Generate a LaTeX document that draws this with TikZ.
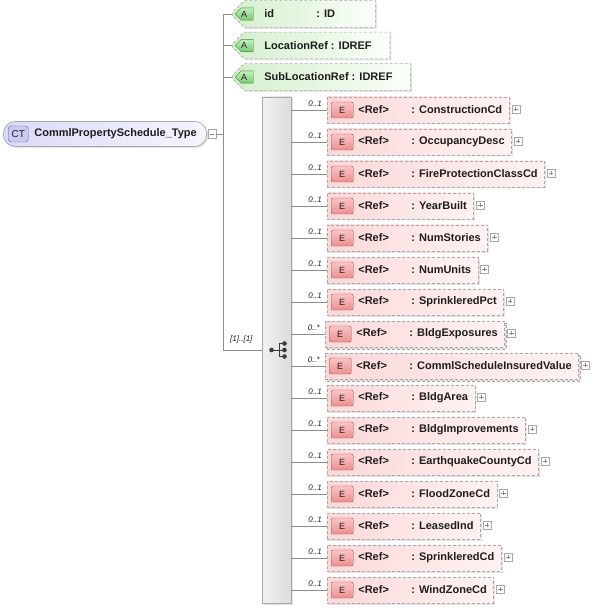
\documentclass[tikz,border=0pt]{standalone}
\usepackage{fontspec}
\setmainfont{Liberation Sans}
\usepackage{tikz}
\usetikzlibrary{positioning}
\usetikzlibrary{shapes.misc,shadows}
\definecolor{txt}{HTML}{1E1E1E}
\definecolor{lnk}{HTML}{8C8C8C}
\definecolor{frm}{HTML}{A8A8A8}
\definecolor{pinkl}{HTML}{FBD8D8}
\definecolor{pinkr}{HTML}{FFF2F2}
\definecolor{greenl}{HTML}{D4EFCC}
\definecolor{greenr}{HTML}{FAFFF9}
\definecolor{lavl}{HTML}{DADAF8}
\definecolor{lavr}{HTML}{F5F5FF}
\definecolor{eicl}{HTML}{FAC4C4}
\definecolor{eicn}{HTML}{EC9090}
\definecolor{eicb}{HTML}{B04848}
\definecolor{aicl}{HTML}{C4EEBE}
\definecolor{aicn}{HTML}{7CC876}
\definecolor{aicb}{HTML}{3C8A3C}
\definecolor{cticn}{HTML}{CACAF2}
\definecolor{cticb}{HTML}{6464A6}
\definecolor{seql}{HTML}{F2F2F2}
\definecolor{seqr}{HTML}{DCDCDC}
\definecolor{icn}{HTML}{3C3C3C}
\newcommand{\lbl}{\bfseries\fontsize{11}{13}\selectfont}
\newcommand{\elref}[1]{\hspace*{31pt}\makebox[53pt][l]{<Ref>}: #1\hspace*{7pt}}

\begin{document}
\begin{tikzpicture}[x=1pt,y=-1pt,every node/.style={text=txt},
  conn/.style={draw=lnk,line width=0.7pt},
  shd/.style={drop shadow={shadow xshift=1.5pt,shadow yshift=-1.5pt,opacity=0.22}},
  ct/.style={rectangle,rounded corners=12pt,draw=frm,line width=0.7pt,left color=lavl,right color=lavr,
    minimum height=25pt,inner xsep=0pt,anchor=west,font=\lbl,shd},
  cticon/.style={rectangle,rounded corners=3pt,draw=cticb,fill=cticn,minimum width=20pt,minimum height=16pt,
    inner sep=0pt,anchor=west,xshift=5pt,font=\fontsize{10}{10}\selectfont},
  attr/.style={chamfered rectangle,chamfered rectangle corners={north west,south west},chamfered rectangle sep=6pt,
    draw=frm,dash pattern=on 3pt off 2pt,line width=0.7pt,left color=greenl,right color=greenr,
    minimum height=25pt,inner xsep=0pt,anchor=west,font=\lbl,shd},
  aicon/.style={chamfered rectangle,chamfered rectangle corners={north west,south west},chamfered rectangle sep=3pt,
    draw=aicb,solid,top color=aicl,bottom color=aicn,minimum width=18pt,minimum height=10pt,inner sep=0pt,
    anchor=west,xshift=3pt,font=\fontsize{9}{9}\selectfont},
  elem/.style={rectangle,draw=frm,dash pattern=on 3pt off 2pt,line width=0.7pt,left color=pinkl,right color=pinkr,
    minimum height=26pt,inner xsep=0pt,anchor=west,font=\lbl,shd},
  eicon/.style={rectangle,rounded corners=2pt,draw=eicb,solid,top color=eicl,bottom color=eicn,minimum width=22pt,
    minimum height=16pt,inner sep=0pt,anchor=west,xshift=4pt,font=\fontsize{9}{9}\selectfont},
  plusbox/.style={rectangle,draw=frm,solid,fill=white,minimum size=8pt,inner sep=0pt,anchor=west,xshift=2pt,yshift=1pt,
    path picture={\draw[lnk,line width=0.6pt]
      ([xshift=1.8pt]path picture bounding box.west) -- ([xshift=-1.8pt]path picture bounding box.east)
      ([yshift=-1.8pt]path picture bounding box.north) -- ([yshift=1.8pt]path picture bounding box.south);}},
  minusbox/.style={rectangle,draw=frm,solid,fill=white,minimum width=8pt,minimum height=9pt,inner sep=0pt,anchor=west,xshift=1pt,
    path picture={\draw[lnk,line width=0.6pt]
      ([xshift=1.8pt]path picture bounding box.west) -- ([xshift=-1.8pt]path picture bounding box.east);}},
  card/.style={font=\itshape\fontsize{8}{8}\selectfont,inner sep=0pt,anchor=south east,xshift=-5pt,yshift=3pt},
  e01/.style={elem,label={[eicon]west:E},label={[plusbox]east:{}},label={[card]west:0..1}},
  emany/.style={general shadow={shadow xshift=2pt,shadow yshift=-2pt,fill=pinkr,draw=frm,
      dash pattern=on 3pt off 2pt,line width=0.6pt},
    elem,label={[eicon]west:E},label={[plusbox]east:{}},label={[card]west:0..*}},
  seqbox/.style={rectangle,draw=frm,line width=0.7pt,left color=seql,right color=seqr,minimum width=29pt,
    minimum height=506pt,inner sep=0pt,shd}]

  \useasboundingbox (0,0) rectangle (592,609);

  % Typ
  \node[ct,label={[cticon]west:CT},label={[minusbox,name=ctm]east:{}}] (CT) at (3,134)
    {\hspace*{31pt}CommlPropertySchedule\_Type\hspace*{10pt}};
  \coordinate[right=7pt of ctm.east] (jn);

  % Attribute
  \node[attr,label={[aicon]west:A}] (ID) at (232,14)
    {\hspace*{26pt}\makebox[52pt][l]{id}\makebox[40pt][l]{: ID}\hspace*{13pt}};
  \node[attr,label={[aicon]west:A}] (LR) [below=31.5pt of ID.west,anchor=west]
    {\hspace*{26pt}LocationRef\ \makebox[40pt][l]{: IDREF}\hspace*{13pt}};
  \node[attr,label={[aicon]west:A}] (SLR) [below=31.5pt of LR.west,anchor=west]
    {\hspace*{26pt}SubLocationRef\ \makebox[40pt][l]{: IDREF}\hspace*{13pt}};

  % Sequenz
  \node[seqbox] (seq) at (276.5,350) {};
  \node[card,anchor=south east] (seqc) [above left=4pt and 4pt of seq.west] {[1]..[1]};
  \draw[icn,line width=1pt] ([xshift=-5pt]seq.center) -- ([xshift=2.5pt]seq.center)
    ([xshift=2.5pt,yshift=6.5pt]seq.center) -- ([xshift=2.5pt,yshift=-6.5pt]seq.center)
    ([xshift=2.5pt,yshift=6.5pt]seq.center) -- ([xshift=8pt,yshift=6.5pt]seq.center)
    ([xshift=2.5pt]seq.center) -- ([xshift=8pt]seq.center)
    ([xshift=2.5pt,yshift=-6.5pt]seq.center) -- ([xshift=8pt,yshift=-6.5pt]seq.center);
  \fill[icn] ([xshift=-5pt]seq.center) circle (2.3pt)
    ([xshift=8pt,yshift=6.5pt]seq.center) circle (2.3pt)
    ([xshift=8pt]seq.center) circle (2.3pt)
    ([xshift=8pt,yshift=-6.5pt]seq.center) circle (2.3pt);

  % Elemente
  \node[e01] (CC) at (327,110) {\elref{ConstructionCd}};
  \node[e01] (OD) [below=32pt of CC.west,anchor=west] {\elref{OccupancyDesc}};
  \node[e01] (FP) [below=32pt of OD.west,anchor=west] {\elref{FireProtectionClassCd}};
  \node[e01] (YB) [below=32pt of FP.west,anchor=west] {\elref{YearBuilt}};
  \node[e01] (NS) [below=32pt of YB.west,anchor=west] {\elref{NumStories}};
  \node[e01] (NU) [below=32pt of NS.west,anchor=west] {\elref{NumUnits}};
  \node[e01] (SP) [below=32pt of NU.west,anchor=west] {\elref{SprinkleredPct}};
  \node[emany] (BE) [below=32pt of SP.west,anchor=west,xshift=-2pt] {\elref{BldgExposures}};
  \node[emany] (CV) [below=32pt of BE.west,anchor=west] {\elref{CommlScheduleInsuredValue}};
  \node[e01] (BA) [below=32pt of CV.west,anchor=west,xshift=2pt] {\elref{BldgArea}};
  \node[e01] (BI) [below=32pt of BA.west,anchor=west] {\elref{BldgImprovements}};
  \node[e01] (EQ) [below=32pt of BI.west,anchor=west] {\elref{EarthquakeCountyCd}};
  \node[e01] (FZ) [below=32pt of EQ.west,anchor=west] {\elref{FloodZoneCd}};
  \node[e01] (LI) [below=32pt of FZ.west,anchor=west] {\elref{LeasedInd}};
  \node[e01] (SC) [below=32pt of LI.west,anchor=west] {\elref{SprinkleredCd}};
  \node[e01] (WZ) [below=32pt of SC.west,anchor=west] {\elref{WindZoneCd}};

  % Verbindungen
  \draw[conn] (ctm.east) -- (jn);
  \draw[conn] (ID.west) -| (jn);
  \draw[conn] (LR.west) -| (jn);
  \draw[conn] (SLR.west) -| (jn);
  \draw[conn] (seq.west) -| (jn);
  \path[conn]
    (seq.east |- CC) edge (CC)
    (seq.east |- OD) edge (OD)
    (seq.east |- FP) edge (FP)
    (seq.east |- YB) edge (YB)
    (seq.east |- NS) edge (NS)
    (seq.east |- NU) edge (NU)
    (seq.east |- SP) edge (SP)
    (seq.east |- BE) edge (BE)
    (seq.east |- CV) edge (CV)
    (seq.east |- BA) edge (BA)
    (seq.east |- BI) edge (BI)
    (seq.east |- EQ) edge (EQ)
    (seq.east |- FZ) edge (FZ)
    (seq.east |- LI) edge (LI)
    (seq.east |- SC) edge (SC)
    (seq.east |- WZ) edge (WZ);

\end{tikzpicture}
\end{document}
